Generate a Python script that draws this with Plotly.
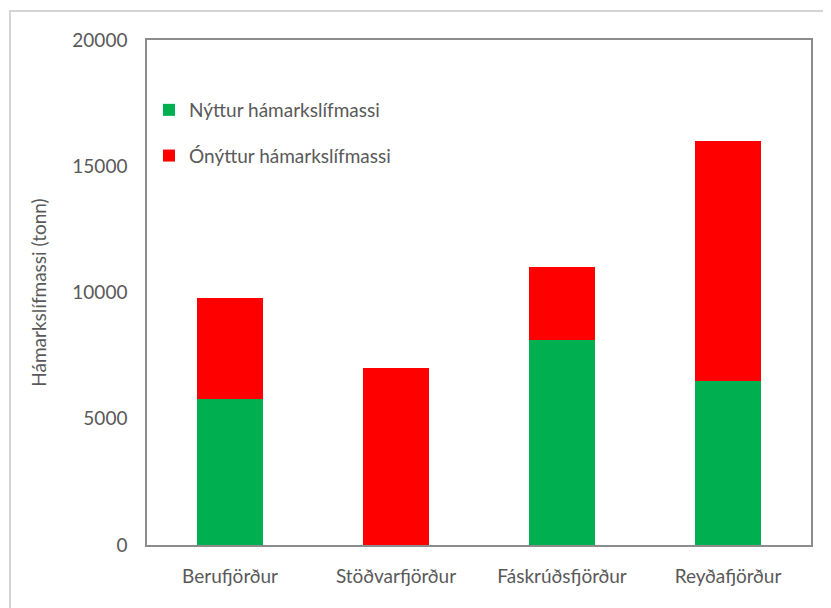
import plotly.graph_objects as go

fjords = ['Berufjörður', 'Stöðvarfjörður', 'Fáskrúðsfjörður', 'Reyðafjörður']
nyttur = [5800, 0, 8100, 6500]
onyttur = [4000, 7000, 2900, 9500]

W, H = 831, 608
OFF = 8  # síðan setur 8px spássíu utan um grafið
L, T = 147 - OFF, 40 - OFF
R, B = W - (811 - OFF), H - (545 - OFF)
pw, ph = W - L - R, H - T - B

def px(x):
    return (x - OFF - L) / pw

def py(y):
    return (H - B - (y - OFF)) / ph

font = 'Lato, Open Sans, sans-serif'
grey = '#595959'

fig = go.Figure()

fig.add_trace(go.Bar(
    x=fjords, y=nyttur,
    name='Nýttur hámarkslífmassi',
    marker=dict(color='#00B050', line=dict(width=0)),
    legendgroup='a'
))

fig.add_trace(go.Bar(
    x=fjords, y=onyttur,
    name='Ónýttur hámarkslífmassi',
    marker=dict(color='#FF0000', line=dict(width=0)),
    legendgroup='b'
))

# ytri rammi
fig.add_shape(type='rect', xref='paper', yref='paper',
              x0=px(10), x1=px(828), y0=py(660), y1=py(11),
              line=dict(color='#d4d4d4', width=2), layer='below')

fig.update_layout(
    width=W, height=H,
    barmode='stack',
    bargap=0.6,
    plot_bgcolor='white',
    paper_bgcolor='white',
    margin=dict(l=L, r=R, t=T, b=B, autoexpand=False),
    font=dict(family=font, size=19, color=grey),
    showlegend=True,
    legend=dict(
        x=px(149), y=py(91), xanchor='left', yanchor='top',
        traceorder='grouped', tracegroupgap=18,
        font=dict(size=19, color=grey),
        bgcolor='rgba(0,0,0,0)'
    ),
    xaxis=dict(
        showline=True, mirror=True, linecolor='#8c8c8c', linewidth=1.5,
        ticks='', showgrid=False, automargin=False,
        ticklabelstandoff=13
    ),
    yaxis=dict(
        range=[0, 20000], dtick=5000, tickformat='d',
        showline=True, mirror=True, linecolor='#8c8c8c', linewidth=1.5,
        showgrid=False, zeroline=False, ticks='', automargin=False,
        ticklabelstandoff=14,
        title=dict(text='Hámarkslífmassi (tonn)', font=dict(size=19, color=grey), standoff=21)
    )
)

fig.write_html("out.html")
